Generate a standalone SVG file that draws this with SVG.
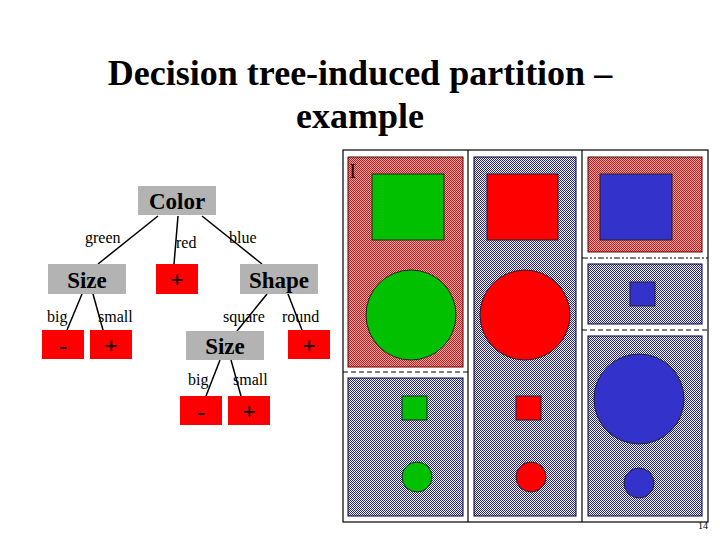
<svg xmlns="http://www.w3.org/2000/svg" width="720" height="540" viewBox="0 0 720 540">
<style>
text{font-family:"Liberation Serif","DejaVu Serif","Times New Roman",serif}
.title{font-weight:bold;font-size:36px;fill:#000;text-anchor:middle}
.nt{font-weight:bold;font-size:23px;fill:#000;text-anchor:middle}
.lt{font-weight:bold;font-size:23px;fill:#000;text-anchor:middle}
.lab{font-size:16px;fill:#000}
.gray{fill:#b3b3b3}
.leaf{fill:#ff0000}
.edge{stroke:#000;stroke-width:1.5;fill:none}
.frame{stroke:#000;stroke-width:1.2;fill:none}
.rp{fill:url(#redpat);stroke:#550000;stroke-width:1}
.bp{fill:url(#bluepat);stroke:#000033;stroke-width:1}
.sh{stroke:#222;stroke-width:1}
</style>
<defs>
<pattern id="redpat" width="2" height="2" patternUnits="userSpaceOnUse">
<rect width="2" height="2" fill="#f0a8a8"/>
<rect width="1" height="1" fill="#c81818"/>
<rect x="1" y="1" width="1" height="1" fill="#c81818"/>
</pattern>
<pattern id="bluepat" width="2" height="2" patternUnits="userSpaceOnUse">
<rect width="2" height="2" fill="#f4f4ff"/>
<rect width="1" height="1" fill="#242488"/>
<rect x="1" y="1" width="1" height="1" fill="#242488"/>
</pattern>
</defs>
<rect width="720" height="540" fill="#fff"/>
<text class="title" x="360" y="85">Decision tree-induced partition –</text>
<text class="title" x="360" y="128">example</text>

<g id="connectors">
<line class="edge" x1="158" y1="216" x2="98" y2="264"/>
<line class="edge" x1="178" y1="216" x2="174" y2="264"/>
<line class="edge" x1="202" y1="216" x2="262" y2="264"/>
<line class="edge" x1="82" y1="294" x2="67" y2="330"/>
<line class="edge" x1="93" y1="294" x2="103" y2="330"/>
<line class="edge" x1="267" y1="294" x2="237" y2="331"/>
<line class="edge" x1="288" y1="294" x2="302" y2="330"/>
<line class="edge" x1="220" y1="360" x2="206" y2="396"/>
<line class="edge" x1="231" y1="360" x2="241" y2="396"/>
<text class="lab" x="85" y="243">green</text>
<text class="lab" x="176" y="248">red</text>
<text class="lab" x="229" y="243">blue</text>
<text class="lab" x="47" y="322">big</text>
<text class="lab" x="98" y="322">small</text>
<text class="lab" x="223" y="322">square</text>
<text class="lab" x="282" y="322">round</text>
<text class="lab" x="188" y="385">big</text>
<text class="lab" x="233" y="385">small</text>
</g>

<g id="n-color"><rect class="gray" x="138" y="186" width="78" height="29"/><text class="nt" x="177" y="209">Color</text></g>
<g id="n-size1"><rect class="gray" x="48" y="264" width="78" height="30"/><text class="nt" x="87" y="288">Size</text></g>
<g id="n-red"><rect class="leaf" x="156" y="264" width="42" height="30"/><text class="lt" x="177" y="287">+</text></g>
<g id="n-shape"><rect class="gray" x="240" y="264" width="78" height="30"/><text class="nt" x="279" y="288">Shape</text></g>
<g id="n-big1"><rect class="leaf" x="42" y="330" width="42" height="29"/><text class="lt" x="63" y="354">-</text></g>
<g id="n-small1"><rect class="leaf" x="90" y="330" width="42" height="29"/><text class="lt" x="111" y="353">+</text></g>
<g id="n-size2"><rect class="gray" x="186" y="331" width="78" height="29"/><text class="nt" x="225" y="354">Size</text></g>
<g id="n-round"><rect class="leaf" x="288" y="330" width="42" height="29"/><text class="lt" x="309" y="353">+</text></g>
<g id="n-big2"><rect class="leaf" x="180" y="396" width="42" height="29"/><text class="lt" x="201" y="420">-</text></g>
<g id="n-small2"><rect class="leaf" x="228" y="396" width="42" height="29"/><text class="lt" x="249" y="419">+</text></g>

<g id="partition">
<rect class="frame" x="343" y="150" width="365" height="372"/>
<line class="frame" x1="468" y1="150" x2="468" y2="522"/>
<line class="frame" x1="582" y1="150" x2="582" y2="522"/>
<rect class="rp" x="348" y="157" width="115" height="210"/>
<line stroke="#000" stroke-width="1" stroke-dasharray="5,3" x1="343" y1="372" x2="468" y2="372"/>
<rect class="bp" x="348" y="378" width="115" height="138"/>
<rect class="bp" x="474" y="157" width="102" height="359"/>
<rect class="rp" x="588" y="157" width="114" height="95"/>
<line stroke="#000" stroke-width="1" stroke-dasharray="6,2,2,2,2,2" x1="582" y1="258" x2="708" y2="258"/>
<rect class="bp" x="588" y="264" width="114" height="60"/>
<line stroke="#000" stroke-width="1" stroke-dasharray="5,3" x1="582" y1="330" x2="708" y2="330"/>
<rect class="bp" x="588" y="336" width="114" height="180"/>

<rect class="sh" fill="#00c000" x="372" y="174" width="72" height="66"/>
<circle class="sh" fill="#00c000" cx="411" cy="315" r="45"/>
<rect class="sh" fill="#00c000" x="402" y="396" width="25" height="24"/>
<circle class="sh" fill="#00c000" cx="417" cy="477" r="15"/>

<rect class="sh" fill="#ff0000" x="487" y="174" width="71" height="66"/>
<circle class="sh" fill="#ff0000" cx="525" cy="315" r="45"/>
<rect class="sh" fill="#ff0000" x="516" y="396" width="25" height="24"/>
<circle class="sh" fill="#ff0000" cx="531" cy="477" r="15"/>

<rect class="sh" fill="#3333cc" x="600" y="174" width="72" height="66"/>
<rect class="sh" fill="#3333cc" x="630" y="282" width="25" height="24"/>
<circle class="sh" fill="#3333cc" cx="639" cy="399" r="45"/>
<circle class="sh" fill="#3333cc" cx="639" cy="483" r="15"/>

<text x="349" y="178" font-size="22" fill="#330000">I</text>
</g>
<text x="708" y="529" font-size="10" fill="#000" text-anchor="end">14</text>
</svg>
